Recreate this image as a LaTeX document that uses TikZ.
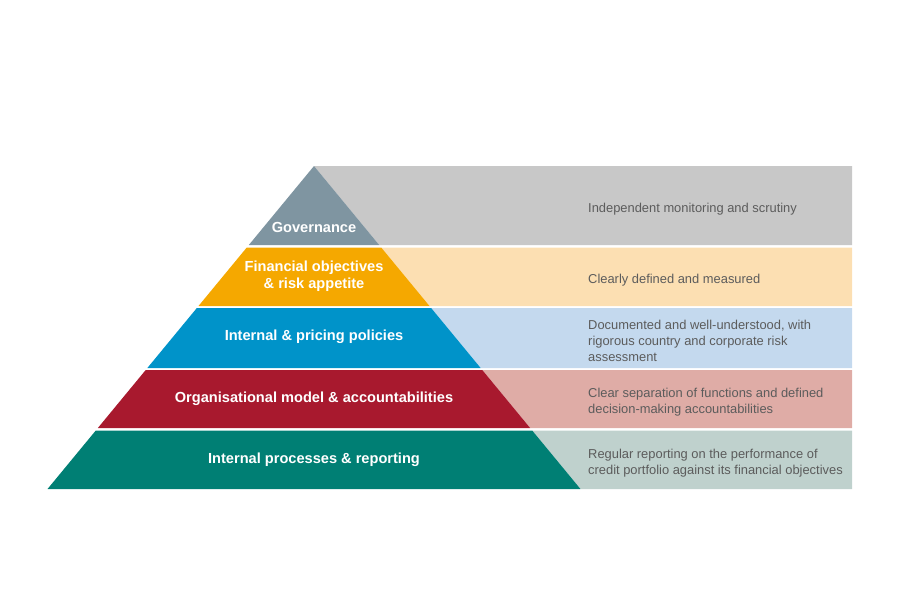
\documentclass[tikz,border=0pt]{standalone}
\usepackage{fontspec}
\setmainfont{Liberation Sans}
\usetikzlibrary{positioning}

\definecolor{govdark}{HTML}{7F95A1}
\definecolor{govlight}{HTML}{C8C8C8}
\definecolor{findark}{HTML}{F5A800}
\definecolor{finlight}{HTML}{FCDFB2}
\definecolor{poldark}{HTML}{0093C9}
\definecolor{pollight}{HTML}{C4D9EE}
\definecolor{orgdark}{HTML}{A8192E}
\definecolor{orglight}{HTML}{DFACA6}
\definecolor{procdark}{HTML}{007F74}
\definecolor{proclight}{HTML}{BFD1CD}
\definecolor{desctext}{HTML}{5C5C5C}

\begin{document}
\begin{tikzpicture}[
  x=1pt, y=-1pt,
  lvl/.style={font=\bfseries\fontsize{14.6}{17}\selectfont, text=white, align=center, inner sep=0pt},
  desc/.style={font=\fontsize{12.9}{16}\selectfont, text=desctext, align=left, anchor=west, inner sep=0pt}
]
\useasboundingbox (0,0) rectangle (900,600);
% pyramid bands with their right-hand panels
\foreach \t/\b/\dk/\lt in {166/245/govdark/govlight, 247.5/306/findark/finlight,
    308/368/poldark/pollight, 370/428/orgdark/orglight, 430.5/489/procdark/proclight}{
  \fill[\lt] ({314+0.825*(\t-166)},\t) -- (852,\t) -- (852,\b) -- ({314+0.825*(\b-166)},\b) -- cycle;
  \fill[\dk] ({314-0.825*(\t-166)},\t) -- ({314+0.825*(\t-166)},\t)
    -- ({314+0.825*(\b-166)},\b) -- ({314-0.825*(\b-166)},\b) -- cycle;
}
% levels
\node[lvl] (gov) at (314,227) {Governance};
\node[lvl] (fin) at (314,276.5) {Financial objectives\\ \& risk appetite};
\node[lvl] (pol) at (314,337) {Internal \& pricing policies};
\node[lvl] (org) at (314,399) {Organisational model \& accountabilities};
\node[lvl] (proc) at (314,460) {Internal processes \& reporting};
% descriptions
\node[desc] (govtxt) at (588,209) {Independent monitoring and scrutiny};
\node[desc] (fintxt) at (588,280) {Clearly defined and measured};
\node[desc] (poltxt) at (588,340.5) {Documented and well-understood, with\\ rigorous country and corporate risk\\ assessment};
\node[desc] (orgtxt) at (588,402) {Clear separation of functions and defined\\ decision-making accountabilities};
\node[desc] (proctxt) at (588,463.5) {Regular reporting on the performance of\\ credit portfolio against its financial objectives};
\end{tikzpicture}
\end{document}
